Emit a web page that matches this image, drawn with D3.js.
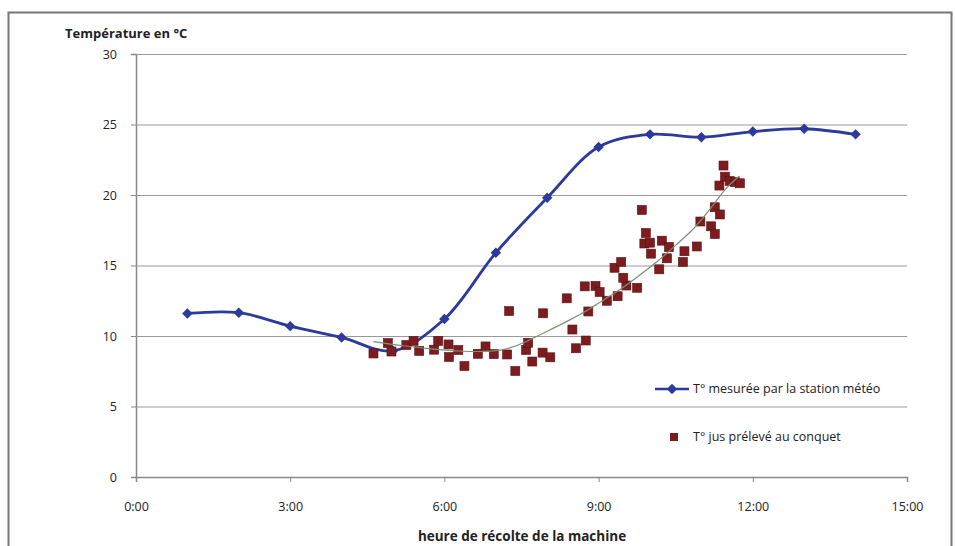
<!DOCTYPE html>
<html>
<head>
<meta charset="utf-8">
<script src="https://cdn.jsdelivr.net/npm/d3@7"></script>
<style>
  html, body { margin: 0; padding: 0; background: #fff; }
  #container { width: 955px; height: 546px; }
  text { font-family: "Open Sans", "Liberation Sans", sans-serif; fill: #222; }
</style>
</head>
<body>
<div id="container"></div>
<script>
// 数据（小时为横坐标，温度为纵坐标）
const xTicks = [0, 3, 6, 9, 12, 15];
const yTicks = [0, 5, 10, 15, 20, 25, 30];

// 气象站测得的温度（蓝线）
const stationHours = [1, 2, 3, 4, 5, 6, 7, 8, 9, 10, 11, 12, 13, 14];
const stationTemps = [11.6, 11.65, 10.7, 9.9, 8.95, 11.2, 15.9, 19.8, 23.4, 24.3, 24.1, 24.5, 24.7, 24.3];

// 在 conquet 采样的果汁温度（红色方块）
const juiceHours = [
  4.62, 4.90, 4.97, 5.26, 5.40, 5.51, 5.80, 5.88, 6.08, 6.27,
  6.09, 6.39, 6.65, 6.80, 6.96, 7.22, 7.26, 7.38, 7.59, 7.63,
  7.71, 7.92, 7.91, 8.06, 8.38, 8.49, 8.56, 8.75, 8.80, 8.73,
  8.94, 9.02, 9.16, 9.37, 9.54, 9.75, 9.31, 9.44, 9.48, 9.84,
  9.92, 9.89, 10.00, 10.02, 10.18, 10.23, 10.37, 10.33, 10.67, 10.64,
  10.91, 10.98, 11.19, 11.26, 11.26, 11.36, 11.35, 11.43, 11.46, 11.55,
  11.65, 11.75
];
const juiceTemps = [
  8.76, 9.50, 8.90, 9.36, 9.65, 8.94, 9.03, 9.65, 9.40, 9.01,
  8.51, 7.87, 8.74, 9.26, 8.72, 8.69, 11.77, 7.52, 9.01, 9.52,
  8.19, 11.61, 8.82, 8.49, 12.67, 10.46, 9.13, 9.68, 11.74, 13.52,
  13.55, 13.12, 12.50, 12.82, 13.58, 13.42, 14.84, 15.25, 14.13, 18.94,
  17.30, 16.56, 16.62, 15.84, 14.73, 16.76, 16.31, 15.51, 16.01, 15.25,
  16.35, 18.12, 17.78, 17.23, 19.13, 18.62, 20.67, 22.09, 21.30, 20.99,
  20.92, 20.83
];

// 果汁温度的趋势线（从图上读取的点）
const trendHours = [4.62, 5.2, 5.8, 6.3, 7.17, 7.66, 8.05, 8.44, 8.83, 9.12, 9.41, 9.70, 10.19, 10.52, 10.77, 10.97, 11.22, 11.47, 11.74];
const trendTemps = [9.6, 9.3, 9.05, 8.9, 8.87, 9.72, 10.43, 11.13, 11.91, 12.62, 13.26, 14.04, 15.39, 16.52, 17.30, 18.09, 19.22, 20.50, 21.35];

const stationLabel = "T° mesurée par la station météo";
const juiceLabel = "T° jus prélevé au conquet";

const blue = "#2b3a9c";
const red = "#7d1c1f";

/**
 * 构建 svg
 */
const width = 955;
const height = 546;
const marginTop = 54;
const marginRight = 48;
const marginBottom = 69;
const marginLeft = 136;

const svg = d3
  .select("#container")
  .append("svg")
  .attr("width", width)
  .attr("height", height)
  .attr("viewBox", [0, 0, width, height]);

// 外框
svg.append("rect")
  .attr("x", 8.5)
  .attr("y", 12.5)
  .attr("width", 943)
  .attr("height", 545)
  .attr("fill", "none")
  .attr("stroke", "#777")
  .attr("stroke-width", 2);

/**
 * 比例尺
 */
const x = d3.scaleLinear()
  .domain([0, 15])
  .range([marginLeft, width - marginRight]);

const y = d3.scaleLinear()
  .domain([0, 30])
  .range([height - marginBottom, marginTop]);

/**
 * 坐标轴
 */
// 横轴
svg.append("g")
  .attr("transform", `translate(0,${height - marginBottom})`)
  .call(d3.axisBottom(x).tickValues(xTicks).tickSize(5).tickPadding(20).tickFormat(d => `${d}:00`))
  .call(g => g.select(".domain").attr("stroke", "#888").attr("stroke-width", 1.5))
  .call(g => g.selectAll(".tick line").attr("stroke", "#888"))
  .call(g => g.selectAll(".tick text").attr("font-size", 12.5).attr("fill", "#333"));

// 纵轴 + 网格线
svg.append("g")
  .attr("transform", `translate(${marginLeft},0)`)
  .call(d3.axisLeft(y).tickValues(yTicks).tickSize(5).tickPadding(14))
  .call(g => g.select(".domain").attr("stroke", "#888").attr("stroke-width", 1.5))
  .call(g => g.selectAll(".tick line").attr("stroke", "#888"))
  .call(g => g.selectAll(".tick text").attr("font-size", 12.5).attr("fill", "#333"))
  .call(g => g.selectAll(".tick").filter(d => d > 0).append("line")
    .attr("x2", width - marginRight - marginLeft)
    .attr("stroke", "#999")
    .attr("stroke-width", 1));

// 轴标题
svg.append("text")
  .attr("x", 65)
  .attr("y", 38)
  .attr("font-size", 13)
  .attr("font-weight", "bold")
  .text("Température en °C");

svg.append("text")
  .attr("x", 522)
  .attr("y", 541)
  .attr("text-anchor", "middle")
  .attr("font-size", 13.5)
  .attr("font-weight", "bold")
  .text("heure de récolte de la machine");

/**
 * 气象站温度曲线
 */
const station = stationHours.map((h, i) => ({hour: h, temp: stationTemps[i]}));

const line = d3.line()
  .curve(d3.curveCatmullRom)
  .x(d => x(d.hour))
  .y(d => y(d.temp));

svg.append("path")
  .datum(station)
  .attr("fill", "none")
  .attr("stroke", blue)
  .attr("stroke-width", 2.8)
  .attr("stroke-linejoin", "round")
  .attr("d", line);

const diamond = d3.symbol(d3.symbolDiamond2, 70);

svg.append("g")
  .attr("fill", blue)
  .selectAll("path")
  .data(station)
  .join("path")
  .attr("transform", d => `translate(${x(d.hour)},${y(d.temp)})`)
  .attr("d", diamond);

/**
 * 果汁温度散点
 */
const juice = juiceHours.map((h, i) => ({hour: h, temp: juiceTemps[i]}));

svg.append("g")
  .attr("fill", red)
  .attr("stroke", "#5a1012")
  .attr("stroke-width", 0.6)
  .selectAll("rect")
  .data(juice)
  .join("rect")
  .attr("x", d => x(d.hour) - 4.5)
  .attr("y", d => y(d.temp) - 4.5)
  .attr("width", 9)
  .attr("height", 9);

/**
 * 趋势线
 */
const trend = trendHours.map((h, i) => ({hour: h, temp: trendTemps[i]}));

svg.append("path")
  .datum(trend)
  .attr("fill", "none")
  .attr("stroke", "#7d9076")
  .attr("stroke-width", 1.2)
  .attr("d", d3.line().curve(d3.curveBasis).x(d => x(d.hour)).y(d => y(d.temp)));

/**
 * 图例
 */
const legend = svg.append("g").attr("font-size", 12.5);

legend.append("line")
  .attr("x1", 655).attr("x2", 689)
  .attr("y1", 389).attr("y2", 389)
  .attr("stroke", blue)
  .attr("stroke-width", 2.4);

legend.append("path")
  .attr("transform", "translate(672,389)")
  .attr("fill", blue)
  .attr("d", diamond);

legend.append("text")
  .attr("x", 693)
  .attr("y", 393)
  .attr("fill", "#333")
  .text(stationLabel);

legend.append("rect")
  .attr("x", 670).attr("y", 433)
  .attr("width", 8).attr("height", 8)
  .attr("fill", red);

legend.append("text")
  .attr("x", 693)
  .attr("y", 441)
  .attr("fill", "#333")
  .text(juiceLabel);
</script>
</body>
</html>
